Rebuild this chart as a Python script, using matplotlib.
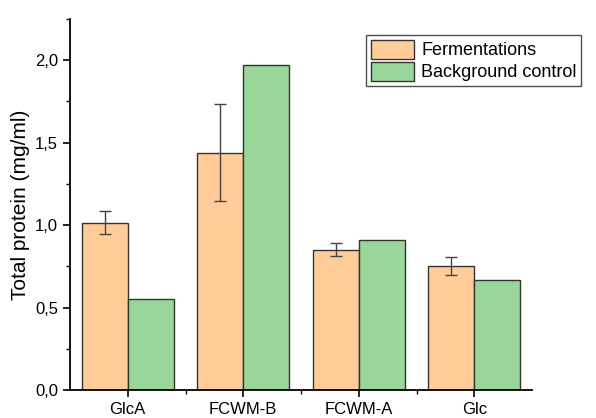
import numpy as np
import matplotlib.pyplot as plt
from matplotlib.ticker import MultipleLocator, FixedLocator, FuncFormatter

plt.rcParams['font.family'] = ['Liberation Sans', 'DejaVu Sans']

# carbon sources and measured total protein
sources = ['GlcA', 'FCWM-B', 'FCWM-A', 'Glc']
fermentations = [1.015, 1.44, 0.85, 0.752]
fermentations_err = [0.068, 0.295, 0.04, 0.053]
background = [0.553, 1.97, 0.912, 0.665]

x = np.arange(1, len(sources) + 1)
width = 0.4

fig = plt.figure(figsize=(5.96, 4.18), dpi=100)
ax = fig.add_axes([70 / 596, 28 / 418, 462 / 596, 371 / 418])

ax.bar(x - width / 2, fermentations, width, color='#FFCC99', edgecolor='#333333',
       linewidth=1.0, label='Fermentations', zorder=2)
ax.errorbar(x - width / 2, fermentations, yerr=fermentations_err, fmt='none',
            ecolor='#444444', elinewidth=1.0, capsize=4, capthick=1.0, zorder=3)
ax.bar(x + width / 2, background, width, color='#99D699', edgecolor='#333333',
       linewidth=1.0, label='Background control', zorder=2)

ax.set_xlim(0.5, 4.5)
ax.set_ylim(0, 2.25)
ax.set_xticks(x)
ax.set_xticklabels(sources)
ax.xaxis.set_minor_locator(FixedLocator([1.5, 2.5, 3.5]))
ax.yaxis.set_major_locator(MultipleLocator(0.5))
ax.yaxis.set_minor_locator(MultipleLocator(0.25))
ax.yaxis.set_major_formatter(FuncFormatter(lambda v, p: f'{v:.1f}'.replace('.', ',')))

for side in ['top', 'right']:
    ax.spines[side].set_visible(False)
for side in ['left', 'bottom']:
    ax.spines[side].set_linewidth(1.3)

ax.tick_params(which='major', direction='out', length=5, width=1.2, labelsize=12)
ax.tick_params(which='minor', direction='out', length=3, width=1.0)
ax.set_ylabel('Total protein (mg/ml)', fontsize=15, labelpad=4)

leg = ax.legend(loc='upper left', bbox_to_anchor=(366 / 596, 1 - 35 / 418),
                bbox_transform=fig.transFigure, fontsize=13, frameon=True,
                fancybox=False, edgecolor='#222222', handlelength=2.4,
                handleheight=1.25, handletextpad=0.4, borderpad=0.25,
                labelspacing=0.15, borderaxespad=0)
leg.get_frame().set_linewidth(1.0)

fig.savefig('out.png', dpi=100)
